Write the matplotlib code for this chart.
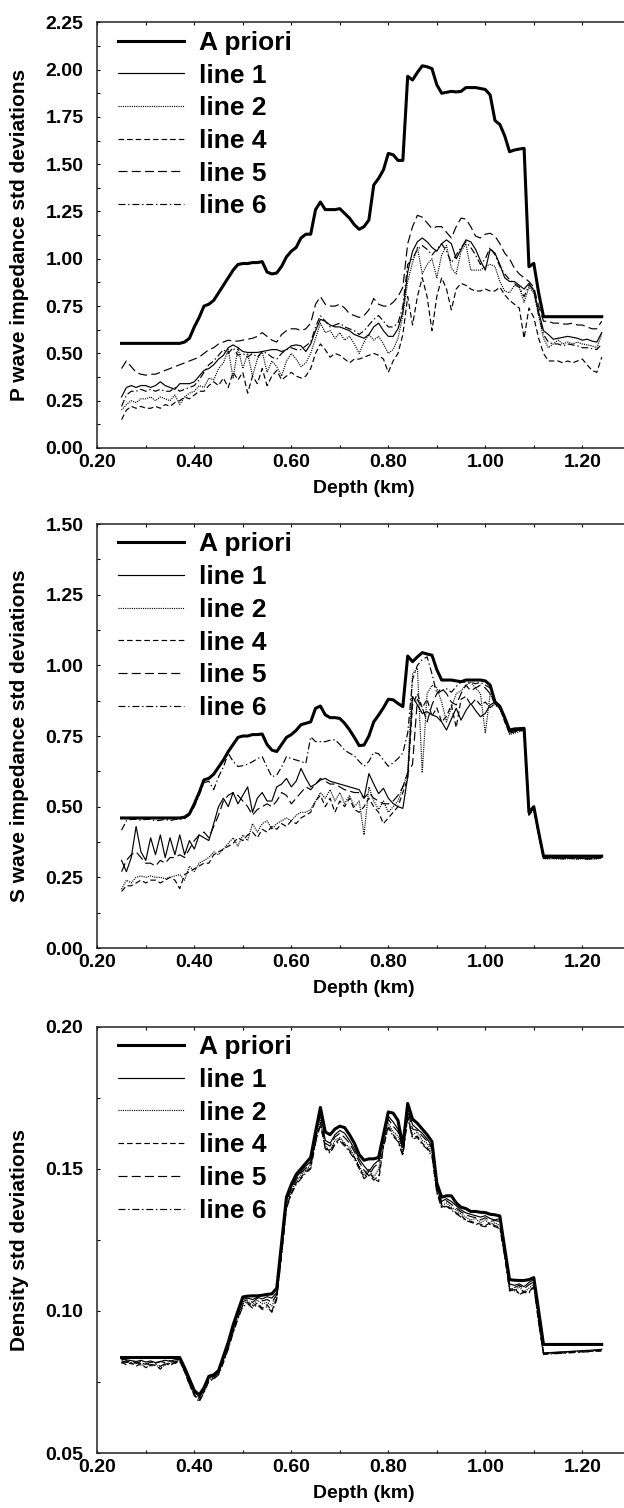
import numpy as np
import matplotlib
matplotlib.use("Agg")
import matplotlib.pyplot as plt
from matplotlib.ticker import MultipleLocator, FormatStrFormatter

plt.rcParams['font.family'] = ['Liberation Sans', 'DejaVu Sans']
plt.rcParams['font.weight'] = 'bold'
plt.rcParams['lines.scale_dashes'] = False

# depth samples (km), 0.25 .. 1.24 every 0.01
depth = np.round(np.arange(0.25, 1.245, 0.01), 2)

series_names = ['A priori', 'line 1', 'line 2', 'line 4', 'line 5', 'line 6']

# ---- P wave impedance std deviations ----
p_apriori = [0.553] * 10 + [
    0.553, 0.553, 0.553, 0.56, 0.58, 0.64, 0.69, 0.75, 0.76, 0.78,
    0.82, 0.86, 0.90, 0.94, 0.97, 0.975, 0.975, 0.98, 0.98, 0.985,
    0.93, 0.92, 0.925, 0.96, 1.01, 1.04, 1.06, 1.11, 1.13, 1.13,
    1.26, 1.30, 1.26, 1.26, 1.26, 1.265, 1.24, 1.215, 1.18, 1.156,
    1.17, 1.205, 1.39, 1.425, 1.47, 1.557, 1.55, 1.52, 1.52, 1.965,
    1.945, 1.985, 2.02, 2.015, 2.005, 1.92, 1.875, 1.88, 1.885, 1.882,
    1.885, 1.905, 1.905, 1.905, 1.90, 1.895, 1.866, 1.73, 1.71, 1.65,
    1.566, 1.575, 1.58, 1.584, 0.958, 0.976, 0.82, 0.694, 0.694, 0.694] + [0.694] * 10
p_line1 = [
    0.27, 0.32, 0.33, 0.32, 0.33, 0.33, 0.32, 0.33, 0.35, 0.33,
    0.32, 0.31, 0.34, 0.34, 0.34, 0.35, 0.38, 0.41, 0.42, 0.44,
    0.47, 0.49, 0.53, 0.545, 0.53, 0.51, 0.505, 0.505, 0.505, 0.51,
    0.515, 0.52, 0.52, 0.51, 0.52, 0.54, 0.545, 0.54, 0.51, 0.55,
    0.62, 0.68, 0.67, 0.65, 0.64, 0.64, 0.63, 0.62, 0.60, 0.59,
    0.58, 0.60, 0.64, 0.66, 0.62, 0.59, 0.59, 0.63, 0.72, 0.93,
    1.04, 1.09, 1.11, 1.09, 1.06, 1.04, 1.08, 1.10, 1.08, 1.00,
    1.05, 1.10, 1.09, 1.05, 0.99, 0.94, 1.05, 1.03, 0.97, 0.90,
    0.88, 0.88, 0.86, 0.84, 0.87, 0.83, 0.72, 0.62, 0.60, 0.575,
    0.58, 0.585, 0.59, 0.585, 0.58, 0.57, 0.575, 0.565, 0.56, 0.61]
p_line2 = [
    0.20, 0.23, 0.25, 0.24, 0.26, 0.26, 0.27, 0.25, 0.27, 0.26,
    0.25, 0.28, 0.23, 0.27, 0.29, 0.30, 0.33, 0.32, 0.37, 0.36,
    0.42, 0.45, 0.52, 0.37, 0.53, 0.42, 0.50, 0.38, 0.47, 0.51,
    0.40, 0.46, 0.43, 0.38, 0.46, 0.50, 0.47, 0.43, 0.45, 0.50,
    0.58, 0.66, 0.61, 0.62, 0.58, 0.61, 0.57, 0.59, 0.55, 0.50,
    0.56, 0.60, 0.57, 0.59, 0.55, 0.50, 0.52, 0.58, 0.70, 0.88,
    0.98, 1.06, 0.92, 0.97, 1.00, 0.90, 1.02, 1.07, 0.95, 0.92,
    1.04, 1.08, 0.94, 0.94, 0.94, 0.96, 0.97, 0.96, 0.88, 0.83,
    0.82, 0.86, 0.85, 0.77, 0.85, 0.82, 0.70, 0.58, 0.53, 0.55,
    0.57, 0.55, 0.56, 0.55, 0.56, 0.55, 0.545, 0.54, 0.53, 0.60]
p_line4 = [
    0.15, 0.20, 0.22, 0.21, 0.22, 0.21, 0.21, 0.22, 0.21, 0.23,
    0.22, 0.24, 0.25, 0.27, 0.26, 0.28, 0.30, 0.30, 0.33, 0.35,
    0.33, 0.37, 0.32, 0.40, 0.36, 0.40, 0.29, 0.38, 0.34, 0.42,
    0.33, 0.38, 0.41, 0.36, 0.38, 0.40, 0.38, 0.37, 0.38, 0.42,
    0.50, 0.55, 0.52, 0.48, 0.50, 0.49, 0.47, 0.45, 0.47, 0.47,
    0.48, 0.49, 0.50, 0.49, 0.47, 0.40, 0.46, 0.50, 0.60, 0.80,
    0.65, 0.80, 0.90, 0.80, 0.62, 0.80, 0.90, 0.84, 0.73, 0.84,
    0.87, 0.86, 0.84, 0.83, 0.83, 0.84, 0.83, 0.83, 0.85, 0.81,
    0.78, 0.76, 0.74, 0.58, 0.74, 0.69, 0.58, 0.50, 0.46, 0.46,
    0.46, 0.45, 0.46, 0.45, 0.46, 0.47, 0.44, 0.41, 0.40, 0.48]
p_line5 = [
    0.42, 0.46, 0.43, 0.40, 0.39, 0.385, 0.39, 0.39, 0.40, 0.41,
    0.42, 0.43, 0.44, 0.45, 0.46, 0.47, 0.48, 0.50, 0.52, 0.53,
    0.55, 0.56, 0.57, 0.565, 0.565, 0.57, 0.575, 0.58, 0.59, 0.61,
    0.59, 0.57, 0.56, 0.60, 0.62, 0.63, 0.63, 0.62, 0.63, 0.66,
    0.76, 0.80, 0.76, 0.75, 0.75, 0.76, 0.74, 0.71, 0.70, 0.69,
    0.70, 0.73, 0.79, 0.76, 0.75, 0.75, 0.77, 0.80, 0.85, 1.08,
    1.17, 1.23, 1.22, 1.19, 1.16, 1.17, 1.17, 1.14, 1.11, 1.17,
    1.215, 1.21, 1.17, 1.12, 1.11, 1.13, 1.135, 1.12, 1.08, 1.03,
    1.00, 0.95, 0.92, 0.90, 0.88, 0.85, 0.75, 0.67, 0.67, 0.66,
    0.66, 0.655, 0.655, 0.66, 0.65, 0.65, 0.64, 0.63, 0.63, 0.67]
p_line6 = [
    0.22, 0.28, 0.30, 0.30, 0.31, 0.30, 0.31, 0.30, 0.31, 0.30,
    0.30, 0.32, 0.30, 0.31, 0.32, 0.33, 0.36, 0.40, 0.44, 0.46,
    0.49, 0.52, 0.50, 0.53, 0.49, 0.50, 0.48, 0.50, 0.48, 0.51,
    0.50, 0.48, 0.47, 0.50, 0.52, 0.53, 0.52, 0.52, 0.54, 0.56,
    0.64, 0.70, 0.67, 0.64, 0.65, 0.66, 0.64, 0.63, 0.62, 0.60,
    0.62, 0.65, 0.68, 0.70, 0.67, 0.64, 0.64, 0.66, 0.75, 0.97,
    1.00, 1.05, 1.07, 1.05, 1.02, 1.05, 1.08, 1.04, 0.98, 1.02,
    1.06, 1.09, 1.06, 1.02, 0.97, 1.00, 1.06, 1.02, 0.96, 0.92,
    0.89, 0.87, 0.85, 0.80, 0.86, 0.84, 0.70, 0.60, 0.56, 0.55,
    0.55, 0.54, 0.55, 0.545, 0.54, 0.53, 0.53, 0.525, 0.52, 0.55]

# ---- S wave impedance std deviations ----
s_apriori = [0.46] * 10 + [
    0.46, 0.46, 0.46, 0.463, 0.475, 0.51, 0.55, 0.595, 0.60, 0.615,
    0.64, 0.665, 0.695, 0.72, 0.745, 0.75, 0.75, 0.755, 0.755, 0.757,
    0.72, 0.70, 0.695, 0.72, 0.745, 0.755, 0.77, 0.79, 0.795, 0.80,
    0.848, 0.856, 0.825, 0.815, 0.815, 0.812, 0.795, 0.772, 0.745, 0.716,
    0.718, 0.75, 0.80, 0.824, 0.85, 0.88, 0.878, 0.865, 0.854, 1.033,
    1.013, 1.03, 1.045, 1.04, 1.036, 0.985, 0.948, 0.948, 0.948, 0.945,
    0.942, 0.948, 0.948, 0.948, 0.948, 0.945, 0.93, 0.871, 0.855, 0.815,
    0.771, 0.775, 0.776, 0.777, 0.48, 0.50, 0.41, 0.325, 0.325, 0.325] + [0.325] * 10
s_line1 = [
    0.31, 0.27, 0.32, 0.43, 0.34, 0.31, 0.39, 0.33, 0.40, 0.32,
    0.39, 0.33, 0.40, 0.33, 0.38, 0.35, 0.40, 0.39, 0.38, 0.44,
    0.50, 0.53, 0.50, 0.55, 0.51, 0.54, 0.57, 0.48, 0.53, 0.55,
    0.52, 0.52, 0.57, 0.58, 0.60, 0.57, 0.59, 0.635, 0.60, 0.57,
    0.58, 0.594, 0.60, 0.59, 0.585, 0.58, 0.575, 0.57, 0.565, 0.56,
    0.53, 0.617, 0.58, 0.546, 0.565, 0.53, 0.511, 0.50, 0.494, 0.606,
    0.89, 0.86, 0.83, 0.836, 0.825, 0.818, 0.80, 0.771, 0.81, 0.848,
    0.806, 0.84, 0.865, 0.84, 0.818, 0.83, 0.86, 0.87, 0.85, 0.81,
    0.765, 0.77, 0.77, 0.775, 0.475, 0.495, 0.405, 0.32, 0.32, 0.319,
    0.32, 0.318, 0.32, 0.319, 0.318, 0.32, 0.317, 0.318, 0.32, 0.322]
s_line2 = [
    0.208, 0.24, 0.23, 0.25, 0.255, 0.25, 0.255, 0.25, 0.25, 0.245,
    0.25, 0.255, 0.26, 0.24, 0.29, 0.27, 0.30, 0.31, 0.32, 0.34,
    0.33, 0.35, 0.37, 0.39, 0.36, 0.40, 0.38, 0.44, 0.41, 0.44,
    0.45, 0.42, 0.44, 0.45, 0.46, 0.45, 0.47, 0.48, 0.48, 0.49,
    0.52, 0.55, 0.53, 0.56, 0.52, 0.55, 0.51, 0.54, 0.50, 0.52,
    0.40, 0.57, 0.52, 0.49, 0.52, 0.48, 0.50, 0.52, 0.57, 0.62,
    0.97, 0.99, 0.62, 0.90, 0.93, 0.92, 0.87, 0.80, 0.85, 0.90,
    0.91, 0.93, 0.94, 0.92, 0.90, 0.76, 0.90, 0.86, 0.845, 0.805,
    0.755, 0.76, 0.765, 0.77, 0.47, 0.49, 0.40, 0.316, 0.315, 0.316,
    0.315, 0.314, 0.316, 0.315, 0.314, 0.316, 0.313, 0.314, 0.315, 0.318]
s_line4 = [
    0.20, 0.22, 0.22, 0.23, 0.24, 0.23, 0.24, 0.24, 0.23, 0.24,
    0.25, 0.24, 0.21, 0.26, 0.27, 0.28, 0.29, 0.30, 0.30, 0.33,
    0.34, 0.35, 0.36, 0.37, 0.39, 0.38, 0.40, 0.41, 0.39, 0.42,
    0.41, 0.43, 0.42, 0.44, 0.43, 0.45, 0.44, 0.46, 0.47, 0.48,
    0.52, 0.54, 0.50, 0.53, 0.48, 0.52, 0.50, 0.53, 0.49, 0.48,
    0.50, 0.53, 0.50, 0.48, 0.44, 0.46, 0.48, 0.50, 0.55, 0.60,
    0.86, 0.90, 0.85, 0.88, 0.82, 0.85, 0.80, 0.82, 0.86, 0.78,
    0.88, 0.89, 0.86, 0.88, 0.86, 0.87, 0.85, 0.865, 0.85, 0.80,
    0.76, 0.765, 0.768, 0.772, 0.472, 0.492, 0.402, 0.318, 0.317, 0.318,
    0.317, 0.316, 0.318, 0.317, 0.316, 0.318, 0.315, 0.316, 0.317, 0.319]
s_line5 = [
    0.27, 0.31, 0.33, 0.34, 0.32, 0.30, 0.30, 0.29, 0.31, 0.30,
    0.32, 0.32, 0.33, 0.32, 0.35, 0.38, 0.40, 0.41, 0.39, 0.43,
    0.47, 0.52, 0.54, 0.55, 0.54, 0.52, 0.50, 0.47, 0.49, 0.50,
    0.51, 0.50, 0.52, 0.55, 0.54, 0.51, 0.53, 0.55, 0.57, 0.56,
    0.58, 0.60, 0.59, 0.58, 0.58, 0.57, 0.56, 0.555, 0.55, 0.55,
    0.53, 0.55, 0.53, 0.52, 0.51, 0.51, 0.52, 0.54, 0.57, 0.62,
    0.65, 0.88, 0.85, 0.80, 0.86, 0.90, 0.92, 0.90, 0.87, 0.86,
    0.90, 0.93, 0.91, 0.92, 0.93, 0.92, 0.90, 0.865, 0.85, 0.81,
    0.765, 0.77, 0.772, 0.774, 0.478, 0.497, 0.408, 0.322, 0.322, 0.321,
    0.322, 0.321, 0.322, 0.321, 0.322, 0.321, 0.322, 0.321, 0.322, 0.323]
s_line6 = [
    0.417, 0.45, 0.455, 0.455, 0.452, 0.455, 0.455, 0.45, 0.452, 0.455,
    0.45, 0.455, 0.455, 0.458, 0.47, 0.50, 0.54, 0.585, 0.59, 0.56,
    0.606, 0.64, 0.689, 0.66, 0.642, 0.645, 0.65, 0.659, 0.67, 0.677,
    0.64, 0.606, 0.612, 0.64, 0.677, 0.67, 0.665, 0.66, 0.653, 0.747,
    0.73, 0.73, 0.73, 0.735, 0.737, 0.72, 0.70, 0.689, 0.68, 0.66,
    0.643, 0.66, 0.692, 0.687, 0.665, 0.643, 0.655, 0.67, 0.69, 0.76,
    0.95, 1.00, 1.02, 1.03, 0.97, 0.90, 0.91, 0.917, 0.905, 0.925,
    0.942, 0.94, 0.94, 0.935, 0.94, 0.93, 0.92, 0.865, 0.85, 0.81,
    0.76, 0.765, 0.77, 0.77, 0.47, 0.49, 0.40, 0.318, 0.318, 0.317,
    0.318, 0.316, 0.318, 0.317, 0.316, 0.318, 0.315, 0.316, 0.318, 0.32]

# ---- Density std deviations ----
d_apriori = [0.0836] * 10 + [
    0.0836, 0.0836, 0.0836, 0.080, 0.076, 0.072, 0.0704, 0.073, 0.077, 0.0775,
    0.079, 0.084, 0.089, 0.095, 0.100, 0.1049, 0.1052, 0.1053, 0.1053, 0.1055,
    0.1058, 0.106, 0.108, 0.124, 0.140, 0.1445, 0.148, 0.150, 0.152, 0.154,
    0.163, 0.1716, 0.163, 0.162, 0.164, 0.165, 0.1645, 0.162, 0.159, 0.155,
    0.153, 0.1535, 0.1535, 0.154, 0.162, 0.170, 0.1696, 0.167, 0.158, 0.173,
    0.1675, 0.166, 0.164, 0.162, 0.1596, 0.145, 0.140, 0.1405, 0.1405, 0.138,
    0.1365, 0.136, 0.135, 0.135, 0.1347, 0.1346, 0.134, 0.1338, 0.1334, 0.122,
    0.111, 0.1108, 0.1107, 0.1107, 0.111, 0.1117, 0.100, 0.0882, 0.0882, 0.0882] + [0.0882] * 10
d_line1 = [
    0.0830, 0.0828, 0.0825, 0.0822, 0.0826, 0.0820, 0.0824, 0.0818, 0.0822, 0.0826,
    0.0823, 0.0828, 0.0830, 0.0795, 0.0752, 0.0715, 0.0700, 0.0725, 0.0765, 0.0770,
    0.0785, 0.0832, 0.0880, 0.0940, 0.0990, 0.1040, 0.1045, 0.1040, 0.1048, 0.1042,
    0.1050, 0.1045, 0.1065, 0.1225, 0.1390, 0.1435, 0.1470, 0.1490, 0.1510, 0.1525,
    0.1615, 0.1700, 0.1600, 0.1590, 0.1620, 0.1635, 0.1625, 0.1600, 0.1570, 0.1535,
    0.1510, 0.1490, 0.1515, 0.1530, 0.1605, 0.1685, 0.1665, 0.1640, 0.1575, 0.1715,
    0.1655, 0.1640, 0.1625, 0.1605, 0.1580, 0.1440, 0.1385, 0.1395, 0.1385, 0.1370,
    0.1355, 0.1345, 0.1340, 0.1335, 0.1330, 0.1335, 0.1325, 0.1320, 0.1325, 0.1215,
    0.1095, 0.1090, 0.1095, 0.1085, 0.1100, 0.1110, 0.0975, 0.0852, 0.0853, 0.0854,
    0.0855, 0.0856, 0.0857, 0.0858, 0.0859, 0.0860, 0.0861, 0.0862, 0.0863, 0.0865]
d_line2 = [
    0.0815, 0.0822, 0.0812, 0.0818, 0.0808, 0.0815, 0.0805, 0.0812, 0.0800, 0.0810,
    0.0815, 0.0822, 0.0826, 0.0790, 0.0745, 0.0708, 0.0690, 0.0718, 0.0758, 0.0765,
    0.0780, 0.0825, 0.0872, 0.0930, 0.0980, 0.1025, 0.1035, 0.1020, 0.1038, 0.1025,
    0.1030, 0.1018, 0.1050, 0.1205, 0.1370, 0.1420, 0.1455, 0.1478, 0.1495, 0.1515,
    0.1600, 0.1670, 0.1580, 0.1565, 0.1600, 0.1610, 0.1590, 0.1575, 0.1545, 0.1510,
    0.1480, 0.1500, 0.1470, 0.1500, 0.1590, 0.1660, 0.1630, 0.1615, 0.1560, 0.1690,
    0.1620, 0.1630, 0.1600, 0.1590, 0.1560, 0.1425, 0.1370, 0.1380, 0.1365, 0.1355,
    0.1340, 0.1330, 0.1320, 0.1325, 0.1310, 0.1320, 0.1305, 0.1310, 0.1300, 0.1200,
    0.1080, 0.1070, 0.1085, 0.1065, 0.1080, 0.1095, 0.0965, 0.0850, 0.0851, 0.0852,
    0.0853, 0.0854, 0.0855, 0.0856, 0.0857, 0.0858, 0.0859, 0.0860, 0.0861, 0.0862]
d_line4 = [
    0.0820, 0.0810, 0.0818, 0.0805, 0.0815, 0.0800, 0.0812, 0.0808, 0.0795, 0.0812,
    0.0818, 0.0815, 0.0824, 0.0785, 0.0740, 0.0705, 0.0685, 0.0715, 0.0755, 0.0762,
    0.0778, 0.0820, 0.0868, 0.0925, 0.0975, 0.1020, 0.1030, 0.1015, 0.1028, 0.1010,
    0.1022, 0.1000, 0.1045, 0.1200, 0.1365, 0.1415, 0.1450, 0.1470, 0.1490, 0.1505,
    0.1595, 0.1660, 0.1575, 0.1560, 0.1590, 0.1605, 0.1585, 0.1565, 0.1540, 0.1505,
    0.1470, 0.1490, 0.1465, 0.1455, 0.1580, 0.1650, 0.1620, 0.1600, 0.1550, 0.1685,
    0.1610, 0.1615, 0.1590, 0.1575, 0.1550, 0.1420, 0.1365, 0.1370, 0.1360, 0.1345,
    0.1335, 0.1320, 0.1315, 0.1310, 0.1305, 0.1300, 0.1310, 0.1300, 0.1295, 0.1195,
    0.1075, 0.1080, 0.1060, 0.1070, 0.1065, 0.1090, 0.0960, 0.0848, 0.0849, 0.0850,
    0.0851, 0.0852, 0.0853, 0.0854, 0.0855, 0.0856, 0.0857, 0.0858, 0.0859, 0.0860]
d_line5 = [
    0.0825, 0.0818, 0.0828, 0.0815, 0.0822, 0.0812, 0.0820, 0.0815, 0.0822, 0.0818,
    0.0825, 0.0820, 0.0828, 0.0792, 0.0748, 0.0712, 0.0695, 0.0722, 0.0762, 0.0768,
    0.0782, 0.0828, 0.0876, 0.0935, 0.0985, 0.1032, 0.1040, 0.1030, 0.1045, 0.1035,
    0.1040, 0.1030, 0.1058, 0.1215, 0.1380, 0.1428, 0.1462, 0.1485, 0.1502, 0.1520,
    0.1610, 0.1690, 0.1590, 0.1580, 0.1612, 0.1625, 0.1610, 0.1590, 0.1560, 0.1525,
    0.1495, 0.1475, 0.1505, 0.1520, 0.1598, 0.1675, 0.1650, 0.1630, 0.1570, 0.1705,
    0.1640, 0.1635, 0.1615, 0.1598, 0.1572, 0.1432, 0.1378, 0.1388, 0.1375, 0.1362,
    0.1348, 0.1338, 0.1332, 0.1328, 0.1320, 0.1328, 0.1315, 0.1318, 0.1315, 0.1208,
    0.1088, 0.1082, 0.1090, 0.1078, 0.1092, 0.1102, 0.0970, 0.0851, 0.0852, 0.0853,
    0.0854, 0.0855, 0.0856, 0.0857, 0.0858, 0.0859, 0.0860, 0.0861, 0.0862, 0.0864]
d_line6 = [
    0.0818, 0.0825, 0.0815, 0.0822, 0.0812, 0.0818, 0.0808, 0.0815, 0.0805, 0.0815,
    0.0808, 0.0818, 0.0822, 0.0788, 0.0742, 0.0702, 0.0680, 0.0712, 0.0752, 0.0760,
    0.0775, 0.0818, 0.0865, 0.0922, 0.0972, 0.1015, 0.1025, 0.1010, 0.1022, 0.1005,
    0.1015, 0.0995, 0.1040, 0.1195, 0.1360, 0.1410, 0.1445, 0.1465, 0.1485, 0.1500,
    0.1590, 0.1655, 0.1570, 0.1555, 0.1585, 0.1598, 0.1580, 0.1560, 0.1535, 0.1500,
    0.1465, 0.1480, 0.1460, 0.1475, 0.1575, 0.1645, 0.1615, 0.1595, 0.1545, 0.1680,
    0.1605, 0.1610, 0.1585, 0.1570, 0.1545, 0.1415, 0.1362, 0.1368, 0.1355, 0.1342,
    0.1330, 0.1318, 0.1312, 0.1306, 0.1300, 0.1296, 0.1305, 0.1296, 0.1290, 0.1190,
    0.1070, 0.1075, 0.1058, 0.1065, 0.1062, 0.1085, 0.0958, 0.0847, 0.0848, 0.0849,
    0.0850, 0.0851, 0.0852, 0.0853, 0.0854, 0.0855, 0.0856, 0.0857, 0.0858, 0.0859]

panels = [
    ('P wave impedance std deviations', (0.0, 2.25), 0.25,
     [p_apriori, p_line1, p_line2, p_line4, p_line5, p_line6]),
    ('S wave impedance std deviations', (0.0, 1.50), 0.25,
     [s_apriori, s_line1, s_line2, s_line4, s_line5, s_line6]),
    ('Density std deviations', (0.05, 0.20), 0.05,
     [d_apriori, d_line1, d_line2, d_line4, d_line5, d_line6]),
]

line_styles = ['-', '-', (0, (0.8, 0.8)), (0, (4.0, 2.2)), (0, (6.5, 3.0)), (0, (5.0, 2.0, 1.0, 2.0))]
line_widths = [2.2, 0.85, 0.85, 0.85, 0.85, 0.85]

W, H = 624, 1508
fig = plt.figure(figsize=(W / 100, H / 100), dpi=100)

# axes boxes in pixels: left, right, top, bottom (right side runs past the image)
boxes = [(97.3, 630.8, 22.3, 448.0), (97.3, 630.8, 524.0, 948.0), (97.3, 630.8, 1026.7, 1453.0)]

for (ylabel, ylim, ystep, data), (l, r, t, b) in zip(panels, boxes):
    ax = fig.add_axes([l / W, 1 - b / H, (r - l) / W, (b - t) / H])
    for name, vals, ls, lw in zip(series_names, data, line_styles, line_widths):
        ax.plot(depth, vals, color='black', linestyle=ls, linewidth=lw,
                label=name, zorder=3 if name == 'A priori' else 2)

    ax.set_xlim(0.2, 1.3)
    ax.set_ylim(*ylim)
    ax.xaxis.set_major_locator(MultipleLocator(0.2))
    ax.xaxis.set_minor_locator(MultipleLocator(0.1))
    ax.yaxis.set_major_locator(MultipleLocator(ystep))
    ax.yaxis.set_minor_locator(MultipleLocator(ystep / 2))
    ax.xaxis.set_major_formatter(FormatStrFormatter('%.2f'))
    ax.yaxis.set_major_formatter(FormatStrFormatter('%.2f'))
    ax.tick_params(which='both', direction='in', top=True, right=False,
                   length=2.5, width=0.8, labelsize=14)
    ax.tick_params(axis='y', which='major', pad=10)
    ax.tick_params(axis='x', which='major', pad=4)
    for s in ax.spines.values():
        s.set_linewidth(1.1)
        s.set_color('#222222')
    for lab in ax.get_xticklabels() + ax.get_yticklabels():
        lab.set_fontweight('bold')

    ax.set_xlabel('Depth (km)', fontsize=14, fontweight='bold', labelpad=7)
    ax.set_ylabel(ylabel, fontsize=15, fontweight='bold', labelpad=12)

    ax.legend(loc='upper left', bbox_to_anchor=(0.038, 0.98), frameon=False,
              handlelength=2.5, handletextpad=0.6,
              labelspacing=0.33, borderpad=0, borderaxespad=0,
              prop={'weight': 'bold', 'size': 19})

fig.savefig('out.png', dpi=100)
